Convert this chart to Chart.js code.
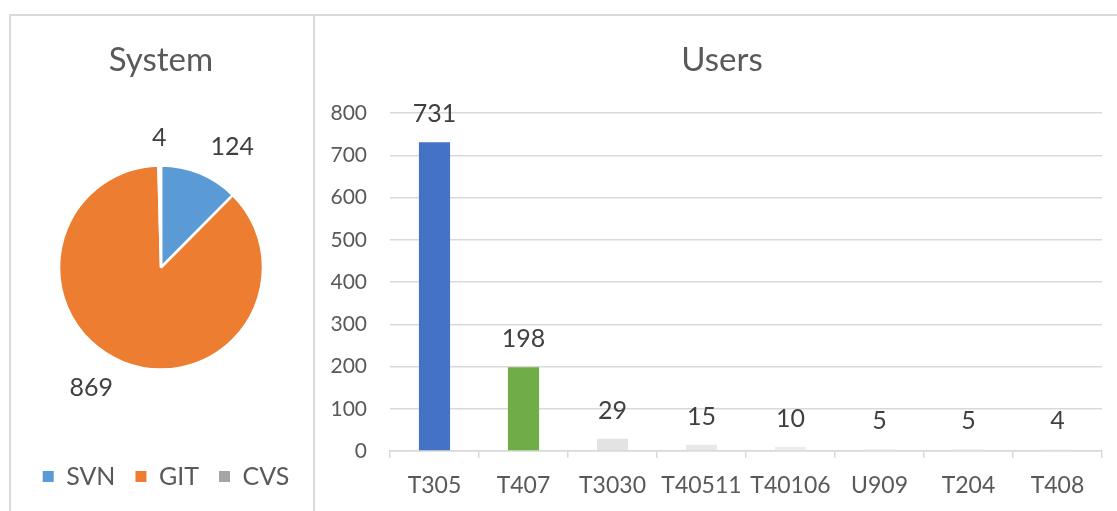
<!DOCTYPE html>
<html>
<head>
<meta charset="utf-8">
<script src="https://cdn.jsdelivr.net/npm/chart.js@4.4.1/dist/chart.umd.min.js"></script>
<style>
  html, body { margin: 0; padding: 0; background: #fff; width: 1117px; height: 511px; overflow: hidden; position: relative; }
  .panel { position: absolute; box-sizing: border-box; border: 2px solid #D9D9D9; background: #fff; }
  #leftPanel { left: 9px; top: 14px; width: 306px; height: 560px; }
  #rightPanel { left: 313px; top: 14px; width: 900px; height: 560px; border-right: none; }
  #pieWrap { position: absolute; left: 10px; top: 15px; width: 302px; height: 496px; }
  #barWrap { position: absolute; left: 314px; top: 15px; width: 816px; height: 496px; }
</style>
</head>
<body>
<div class="panel" id="leftPanel"></div>
<div class="panel" id="rightPanel"></div>
<div id="pieWrap"><canvas id="pie"></canvas></div>
<div id="barWrap"><canvas id="bar"></canvas></div>
<script>
// ---- data ----
const systemLabels = ['SVN', 'GIT', 'CVS'];
const systemValues = [124, 869, 4];
const systemColors = ['#5B9BD5', '#ED7D31', '#A5A5A5'];

const userLabels = ['T305', 'T407', 'T3030', 'T40511', 'T40106', 'U909', 'T204', 'T408'];
const userValues = [731, 198, 29, 15, 10, 5, 5, 4];
const userColors = ['#4472C4', '#70AD47', '#E3E3E3', '#E8E8E8', '#EDEDED', '#F2F2F2', '#F2F2F2', '#F2F2F2'];

const yTicks = [0, 100, 200, 300, 400, 500, 600, 700, 800];

const FONT = 'Lato';
const TEXT = '#595959';
const LABEL = '#404040';
const GRID = '#D9D9D9';

// centred chart title drawn on the canvas
function titlePlugin(text) {
  return {
    id: 'centerTitle',
    afterDraw(chart) {
      const ctx = chart.ctx;
      ctx.save();
      ctx.font = '33px ' + FONT;
      ctx.fillStyle = TEXT;
      ctx.textAlign = 'center';
      ctx.textBaseline = 'middle';
      ctx.fillText(text, chart.width / 2, 45);
      ctx.restore();
    }
  };
}

// pie labels outside the slices
const pieLabelPlugin = {
  id: 'pieLabels',
  afterDatasetsDraw(chart) {
    const ctx = chart.ctx;
    const meta = chart.getDatasetMeta(0);
    ctx.save();
    ctx.font = '25px ' + FONT;
    ctx.fillStyle = LABEL;
    ctx.textBaseline = 'middle';
    meta.data.forEach((arc, i) => {
      const p = arc.getProps(['x', 'y', 'startAngle', 'endAngle', 'outerRadius'], true);
      const mid = (p.startAngle + p.endAngle) / 2;
      const r = p.outerRadius + 28;
      const x = p.x + Math.cos(mid) * r;
      const y = p.y + Math.sin(mid) * r;
      const c = Math.cos(mid);
      ctx.textAlign = Math.abs(c) < 0.2 ? 'center' : (c > 0 ? 'left' : 'right');
      ctx.fillText(String(systemValues[i]), x, y);
    });
    ctx.restore();
  }
};

// nudge the pie legend slightly right, as in the reference
const legendShift = {
  id: 'legendShift',
  afterLayout(chart) {
    if (chart.legend) { chart.legend.left += 5; chart.legend.right += 5; }
  }
};

// bar value labels
const barLabelPlugin = {
  id: 'barLabels',
  afterDatasetsDraw(chart) {
    const ctx = chart.ctx;
    const meta = chart.getDatasetMeta(0);
    ctx.save();
    ctx.font = '25px ' + FONT;
    ctx.fillStyle = LABEL;
    ctx.textAlign = 'center';
    ctx.textBaseline = 'middle';
    meta.data.forEach((bar, i) => {
      ctx.fillText(String(userValues[i]), bar.x, bar.y - 28);
    });
    ctx.restore();
  }
};

new Chart(document.getElementById('pie'), {
  type: 'pie',
  data: {
    labels: systemLabels,
    datasets: [{
      data: systemValues,
      backgroundColor: systemColors,
      borderColor: '#ffffff',
      borderWidth: 2.5
    }]
  },
  options: {
    responsive: true,
    maintainAspectRatio: false,
    animation: false,
    radius: 102,
    layout: { padding: { top: 76, bottom: 12, left: 0, right: 0 } },
    plugins: {
      title: { display: false },
      legend: {
        display: true,
        position: 'bottom',
        labels: {
          boxWidth: 11,
          boxHeight: 11,
          padding: 20,
          color: TEXT,
          font: { family: FONT, size: 25 },
          generateLabels(chart) {
            return Chart.overrides.pie.plugins.legend.labels.generateLabels(chart)
              .map(l => Object.assign(l, { lineWidth: 0, strokeStyle: l.fillStyle }));
          }
        }
      },
      tooltip: { enabled: false }
    }
  },
  plugins: [pieLabelPlugin, legendShift, titlePlugin('System')]
});

new Chart(document.getElementById('bar'), {
  type: 'bar',
  data: {
    labels: userLabels,
    datasets: [{
      data: userValues,
      backgroundColor: userColors,
      barPercentage: 0.35,
      categoryPercentage: 1.0
    }]
  },
  options: {
    responsive: true,
    maintainAspectRatio: false,
    animation: false,
    layout: { padding: { top: 98, bottom: 0, left: 0, right: 28 } },
    scales: {
      x: {
        afterFit(scale) { scale.height = 60; },
        grid: {
          display: true,
          drawOnChartArea: false,
          drawTicks: true,
          tickLength: 7,
          color: GRID,
          lineWidth: 1.5
        },
        border: { display: true, color: GRID, width: 1.5 },
        ticks: {
          color: TEXT,
          font: { family: FONT, size: 23 },
          padding: 14,
          maxRotation: 0,
          autoSkip: false
        }
      },
      y: {
        min: 0,
        max: 800,
        afterFit(scale) { scale.width = 76; },
        afterBuildTicks(scale) { scale.ticks = yTicks.map(v => ({ value: v })); },
        grid: { color: GRID, lineWidth: 1.5, drawTicks: false },
        border: { display: false },
        ticks: {
          color: TEXT,
          font: { family: FONT, size: 21 },
          padding: 23
        }
      }
    },
    plugins: {
      title: { display: false },
      legend: { display: false },
      tooltip: { enabled: false }
    }
  },
  plugins: [barLabelPlugin, titlePlugin('Users')]
});
</script>
</body>
</html>
